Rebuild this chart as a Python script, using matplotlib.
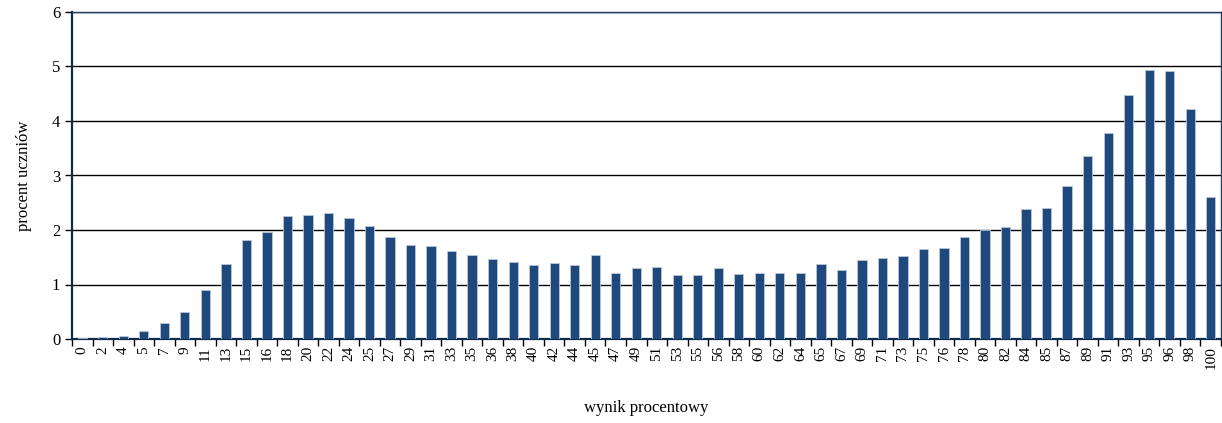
import matplotlib
matplotlib.use("Agg")
import matplotlib.pyplot as plt
import numpy as np

plt.rcParams['font.family'] = ['Liberation Serif', 'DejaVu Serif']

# wynik procentowy (kategorie) i procent uczniów
wyniki = ["0", "2", "4", "5", "7", "9", "11", "13", "15", "16",
          "18", "20", "22", "24", "25", "27", "29", "31", "33", "35",
          "36", "38", "40", "42", "44", "45", "47", "49", "51", "53",
          "55", "56", "58", "60", "62", "64", "65", "67", "69", "71",
          "73", "75", "76", "78", "80", "82", "84", "85", "87", "89",
          "91", "93", "95", "96", "98", "100"]
procent = [0.01, 0.04, 0.06, 0.15, 0.30, 0.50, 0.89, 1.38, 1.82, 1.96,
           2.26, 2.28, 2.32, 2.22, 2.08, 1.87, 1.72, 1.71, 1.62, 1.54,
           1.47, 1.41, 1.35, 1.39, 1.35, 1.55, 1.21, 1.30, 1.33, 1.18,
           1.17, 1.31, 1.19, 1.21, 1.22, 1.21, 1.37, 1.27, 1.45, 1.49,
           1.53, 1.65, 1.67, 1.87, 2.00, 2.05, 2.39, 2.40, 2.81, 3.36,
           3.78, 4.48, 4.94, 4.92, 4.22, 2.60]

navy = "#1F497D"

fig = plt.figure(figsize=(12.22, 4.23), dpi=100)
ax = fig.add_axes([72 / 1222, 84 / 423, 1149 / 1222, 327 / 423])

x = np.arange(len(wyniki))
ax.bar(x, procent, width=0.45, color=navy, edgecolor="#B8C7DA", linewidth=0.6, zorder=3)

ax.set_xlim(-0.5, len(wyniki) - 0.5)
ax.set_ylim(0, 6)
ax.set_yticks(range(0, 7))
ax.yaxis.grid(True, color="black", linewidth=1.0, zorder=1)

# etykiety osi X pionowo, kreski między kategoriami
ax.set_xticks(x)
ax.set_xticklabels(wyniki, rotation=90, fontsize=11)
ax.set_xticks(np.arange(-0.5, len(wyniki)), minor=True)
ax.tick_params(axis="x", which="major", length=0, pad=5)
ax.tick_params(axis="x", which="minor", length=5, width=1, color="black")
ax.tick_params(axis="y", length=5, width=1, labelsize=12)

for side in ["left", "bottom"]:
    ax.spines[side].set_color("#0F2A4A")
    ax.spines[side].set_linewidth(1.6)
for side in ["top", "right"]:
    ax.spines[side].set_color("#1F3F66")
    ax.spines[side].set_linewidth(1.0)

ax.set_ylabel("procent uczniów", fontsize=12, labelpad=14)
fig.text((72 + 1221) / 2 / 1222, 1 - 408 / 423, "wynik procentowy",
         ha="center", va="center", fontsize=12)

fig.savefig("out.png", dpi=100)
